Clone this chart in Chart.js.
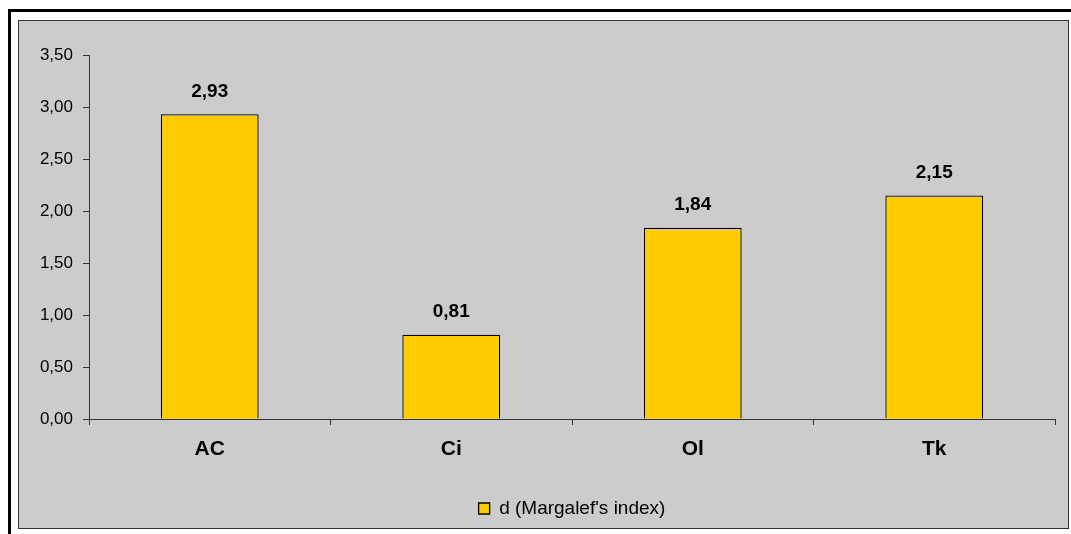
<!DOCTYPE html>
<html>
<head>
<meta charset="utf-8">
<script src="https://cdn.jsdelivr.net/npm/chart.js@4/dist/chart.umd.min.js"></script>
<style>
  body {
    margin: 0;
    background: #fff;
    width: 1071px;
    height: 534px;
    overflow: hidden;
    position: relative;
  }
  .outer {
    position: absolute;
    left: 8px;
    top: 9px;
    width: 1200px;
    height: 700px;
    border: 3px solid #000;
  }
  .panel {
    position: absolute;
    left: 18px;
    top: 20px;
    width: 1051px;
    height: 509px;
    box-sizing: border-box;
    border: 1px solid #333;
    background: #cccccc;
  }
  .panel canvas {
    display: block;
  }
</style>
</head>
<body>
<div class="outer"></div>
<div class="panel">
  <canvas id="margalefChart" width="1049" height="507"></canvas>
</div>
<script>
const sites = ["AC", "Ci", "Ol", "Tk"];
const margalefValues = [2.93, 0.81, 1.84, 2.15];
const seriesName = "d (Margalef's index)";

const fontFamily = "'Liberation Sans', Arial, sans-serif";

const comma = (v) => v.toFixed(2).replace(".", ",");

const valueLabels = {
  id: "valueLabels",
  afterDatasetsDraw(chart) {
    const ctx = chart.ctx;
    const meta = chart.getDatasetMeta(0);
    ctx.save();
    ctx.font = "bold 19px " + fontFamily;
    ctx.fillStyle = "#000";
    ctx.textAlign = "center";
    ctx.textBaseline = "middle";
    meta.data.forEach((bar, i) => {
      ctx.fillText(comma(margalefValues[i]), bar.x, bar.y - 23);
    });
    ctx.restore();
  },
};

// excel puts the legend a bit right of centre
const legendShift = {
  id: "legendShift",
  afterLayout(chart) {
    chart.legend.left += 35;
    chart.legend.right += 35;
  },
};

const margalefChart = document.getElementById("margalefChart");

new Chart(margalefChart, {
  type: "bar",
  data: {
    labels: sites,
    datasets: [
      {
        label: seriesName,
        data: margalefValues,
        backgroundColor: "#ffcc00",
        borderColor: "#000",
        borderWidth: 1.3,
        barPercentage: 0.405,
        categoryPercentage: 1,
      },
    ],
  },
  options: {
    responsive: false,
    animation: false,
    events: [],
    layout: {
      padding: { top: 34, right: 13, left: 0, bottom: 0 },
    },
    plugins: {
      tooltip: { enabled: false },
      title: { display: false },
      legend: {
        display: true,
        position: "bottom",
        labels: {
          boxWidth: 11,
          boxHeight: 11,
          padding: 10,
          color: "#000",
          font: { family: fontFamily, size: 19 },
        },
      },
    },
    scales: {
      x: {
        grid: {
          display: true,
          drawOnChartArea: false,
          tickLength: 6,
          color: "#333",
        },
        border: { display: true, color: "#333", width: 1 },
        ticks: {
          padding: 12,
          color: "#000",
          font: { family: fontFamily, size: 21, weight: "bold" },
        },
        afterFit: (scale) => {
          scale.height = 70;
        },
      },
      y: {
        min: 0,
        max: 3.5,
        grid: {
          display: true,
          drawOnChartArea: false,
          tickLength: 6,
          color: "#333",
        },
        border: { display: true, color: "#333", width: 1 },
        ticks: {
          stepSize: 0.5,
          padding: 10,
          color: "#000",
          font: { family: fontFamily, size: 17 },
          callback: (value) => comma(value),
        },
        afterFit: (scale) => {
          scale.width = 70;
        },
      },
    },
  },
  plugins: [valueLabels, legendShift],
});
</script>
</body>
</html>
